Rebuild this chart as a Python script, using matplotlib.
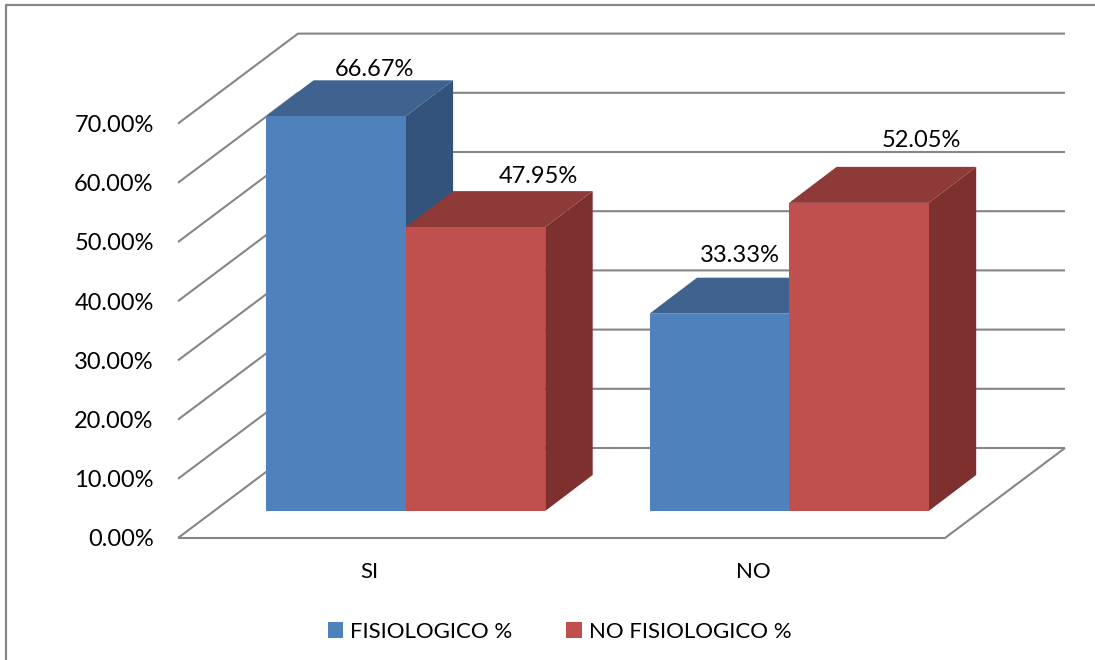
import matplotlib
matplotlib.use('Agg')
import matplotlib.pyplot as plt
from matplotlib.patches import Polygon
from matplotlib.lines import Line2D

plt.rcParams['font.family'] = ['Lato', 'DejaVu Sans']

categories = ['SI', 'NO']
fisiologico = [66.67, 33.33]
no_fisiologico = [47.95, 52.05]
y_ticks = [0, 10, 20, 30, 40, 50, 60, 70]
y_labels = ['0.00%', '10.00%', '20.00%', '30.00%', '40.00%', '50.00%', '60.00%', '70.00%']
series_names = ['FISIOLOGICO %', 'NO FISIOLOGICO %']

W, H = 1095, 660
fig = plt.figure(figsize=(W / 100, H / 100), dpi=100)

# plot area in pixels, front plane of the fake 3d box
left, right, bottom = 178, 945, 538
px_y = 5.92
ax = fig.add_axes([left / W, 1 - bottom / H, (right - left) / W, 70 * px_y / H])
ax.set_xlim(0, 2)
ax.set_ylim(0, 70)
px_x = (right - left) / 2

def xu(p):
    return p / px_x

def yu(p):
    return p / px_y

grid = '#868686'
wall_dx, wall_dy = xu(120), yu(90)
for t in y_ticks:
    ax.plot([0, wall_dx, 2 + wall_dx], [t, t + wall_dy, t + wall_dy], color=grid, lw=1.5,
            clip_on=False, solid_joinstyle='miter', solid_capstyle='butt', zorder=1)
ax.plot([0, 2, 2 + wall_dx], [0, 0, wall_dy], color=grid, lw=1.5, clip_on=False,
        solid_capstyle='butt', zorder=1)

bar_w = xu(139.6)
base = yu(27)
d_x, d_y = xu(47.5), yu(36)
shift = xu(35 + 53)


def bar3d(x, val, front, top, side, z, name=None):
    ax.bar(x, val, width=bar_w, bottom=base, align='edge', color=front, zorder=z + 0.2,
           clip_on=False, label=name)
    y0, y1 = base, base + val
    ax.add_patch(Polygon([(x + bar_w, y0), (x + bar_w + d_x, y0 + d_y), (x + bar_w + d_x, y1 + d_y),
                          (x + bar_w, y1)], facecolor=side, edgecolor='none', clip_on=False, zorder=z))
    ax.add_patch(Polygon([(x, y1), (x + d_x, y1 + d_y), (x + bar_w + d_x, y1 + d_y), (x + bar_w, y1)],
                         facecolor=top, edgecolor='none', clip_on=False, zorder=z + 0.1))


label_offsets = [[(39, 47), (21, 58)], [(63, 51), (62, 62)]]
for i in range(len(categories)):
    x0 = i + shift
    bar3d(x0, fisiologico[i], '#4F81BD', '#3F628F', '#33527C', 2 + i,
          series_names[0] if i == 0 else None)
    bar3d(x0 + bar_w, no_fisiologico[i], '#C0504D', '#8E3A38', '#7D302E', 2.5 + i,
          series_names[1] if i == 0 else None)
    ax.annotate('%.2f%%' % fisiologico[i], (x0 + bar_w / 2, base + fisiologico[i]),
                xytext=label_offsets[0][i], textcoords='offset pixels', ha='center', va='center',
                fontsize=17, color='black', zorder=10, annotation_clip=False)
    ax.annotate('%.2f%%' % no_fisiologico[i], (x0 + bar_w * 1.5, base + no_fisiologico[i]),
                xytext=label_offsets[1][i], textcoords='offset pixels', ha='center', va='center',
                fontsize=17, color='black', zorder=10, annotation_clip=False)

ax.set_yticks(y_ticks)
ax.set_yticklabels(y_labels, fontsize=17, color='black')
ax.set_xticks([0.5, 1.5])
ax.set_xticklabels(categories, fontsize=16, color='black')
ax.tick_params(axis='y', length=0, pad=17.5)
ax.tick_params(axis='x', length=0, pad=17)
for s in ax.spines.values():
    s.set_visible(False)
ax.patch.set_visible(False)

ax.legend(loc='center', bbox_to_anchor=(559.5 / W, 1 - 632 / H), bbox_transform=fig.transFigure,
          ncol=2, frameon=False, fontsize=16, labelcolor='black', handlelength=0.7, handleheight=0.7,
          handletextpad=0.33, columnspacing=2.4, borderpad=0, borderaxespad=0)

# outer frame, runs off the right and bottom of the image
fig.add_artist(Line2D([6 / W, 6 / W, 1], [0, 1 - 5 / H, 1 - 5 / H], color='#868686', lw=1.6))

fig.savefig('out.png', dpi=100, facecolor='white')
